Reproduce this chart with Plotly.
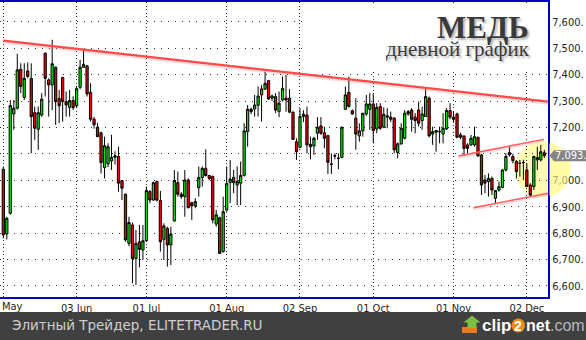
import math
import pandas as pd
import plotly.graph_objects as go

# ---------------- data ----------------
uk_holidays = ['2013-05-06', '2013-05-27', '2013-08-26']
dates = [d.strftime('%Y-%m-%d') for d in pd.bdate_range('2013-05-01', '2013-12-09')
         if d.strftime('%Y-%m-%d') not in uk_holidays]

open_ = [7042,6797,6875,7251,7273,7420,7314,7414,7386,7256,
         7193,7247,7481,7380,7361,7428,7310,7389,7298,7276,
         7302,7282,7352,7428,7433,7333,7231,7201,7180,7048,
         7062,7073,7087,7090,6999,6947,6761,6831,6704,6767,
         6736,6771,6957,6925,6995,6923,6776,6818,6755,6846,
         6991,6947,6938,7001,6915,6903,6972,7010,7045,7018,
         7014,6834,6858,6730,6887,6991,7011,6982,6989,7018,
         7184,7269,7270,7284,7323,7345,7377,7311,7317,7260,
         7304,7311,7311,7258,7146,7125,7241,7247,7136,7130,
         7178,7206,7180,7169,7062,7093,7084,7087,7269,7333,
         7263,7235,7168,7187,7251,7269,7289,7194,7279,7201,
         7244,7239,7235,7105,7138,7159,7251,7266,7239,7266,
         7226,7241,7311,7175,7182,7186,7175,7194,7264,7239,
         7251,7172,7168,7134,7134,7134,7163,7096,7001,6995,
         7007,6932,6963,6973,7039,7105,7090,7071,7065,7067,
         7039,6982,6976,7077,7077,7104]
high = [7052,6862,7304,7304,7479,7443,7443,7446,7443,7279,
        7279,7330,7484,7386,7532,7430,7342,7392,7336,7342,
        7318,7355,7456,7496,7437,7367,7240,7218,7184,7165,
        7140,7172,7110,7127,7001,6950,6862,6840,6812,6831,
        6831,6976,6963,6995,6999,6960,6837,6824,6824,7039,
        7033,6955,7039,7007,6919,6932,7052,7052,7117,7020,
        7018,6888,6862,6938,7052,7077,7039,7052,7071,7216,
        7285,7275,7323,7355,7361,7412,7380,7325,7330,7336,
        7393,7399,7345,7260,7159,7273,7265,7279,7165,7165,
        7239,7239,7203,7172,7102,7102,7102,7203,7355,7393,
        7268,7311,7216,7254,7323,7330,7330,7292,7292,7276,
        7273,7260,7239,7143,7216,7266,7266,7273,7254,7298,
        7279,7348,7317,7203,7191,7203,7254,7273,7292,7260,
        7256,7180,7168,7140,7172,7203,7165,7100,7020,7026,
        7014,6963,6995,7042,7102,7127,7100,7077,7077,7077,
        7064,6989,7093,7127,7134,7115]
low = [6780,6776,6870,7191,7268,7330,7304,7386,7102,7153,
       7115,7240,7317,7241,7266,7210,7216,7222,7241,7241,
       7266,7273,7345,7425,7317,7222,7195,7165,7026,7007,
       7050,7039,7060,6957,6925,6767,6750,6610,6603,6670,
       6698,6767,6913,6923,6920,6730,6698,6673,6679,6843,
       6938,6930,6862,6894,6850,6894,6938,6976,7014,7000,
       6837,6824,6721,6726,6881,6913,6951,6906,6906,7014,
       7127,7250,7241,7241,7222,7342,7304,7300,7254,7239,
       7298,7260,7254,7153,7077,7121,7220,7102,7079,7096,
       7153,7172,7121,7024,7024,7079,7042,7083,7266,7276,
       7248,7115,7146,7165,7244,7191,7140,7178,7191,7197,
       7197,7220,7102,7083,7134,7155,7244,7184,7178,7203,
       7191,7241,7163,7134,7108,7140,7140,7191,7231,7218,
       7159,7155,7092,7102,7130,7127,7090,6944,6951,6938,
       6944,6910,6957,6970,7033,7090,7064,7007,7014,7001,
       6976,6938,6963,7039,7071,7085]
close = [6793,6856,7283,7273,7418,7355,7386,7393,7241,7197,
         7256,7307,7386,7361,7441,7298,7282,7298,7285,7302,
         7275,7347,7428,7439,7327,7231,7210,7165,7067,7131,
         7127,7087,7093,6989,6970,6774,6840,6704,6761,6738,
         6771,6961,6925,6991,6925,6767,6827,6755,6797,6999,
         6947,6938,7001,6896,6903,6919,7010,7045,7018,7007,
         6850,6869,6723,6881,6988,7004,6991,6995,7018,7187,
         7269,7260,7285,7319,7346,7367,7308,7319,7266,7292,
         7348,7304,7258,7155,7108,7241,7250,7134,7127,7159,
         7201,7178,7159,7068,7060,7092,7083,7201,7323,7279,
         7251,7175,7187,7254,7289,7289,7188,7276,7197,7250,
         7239,7231,7115,7138,7197,7254,7260,7231,7226,7216,
         7251,7317,7168,7184,7188,7184,7197,7264,7239,7231,
         7163,7163,7121,7121,7159,7165,7092,6982,6989,7007,
         6963,6961,6976,7039,7090,7096,7074,7033,7064,7067,
         6976,6944,7090,7086,7108,7093]

tick_dates = ['2013-05-01', '2013-06-03', '2013-07-01', '2013-08-01',
              '2013-09-02', '2013-10-01', '2013-11-01', '2013-12-02']
tick_text = ['', '03 Jun', '01 Jul', '01 Aug', '02 Sep', '01 Oct', '01 Nov', '02 Dec']
first_label = 'May'

y_ticks = [6600, 6700, 6800, 6900, 7000, 7100, 7200, 7300, 7400, 7500, 7600]
y_text = ['6,600.', '6,700.', '6,800.', '6,900.', '7,000.', '', '7,200.', '7,300.',
          '7,400.', '7,500.', '7,600.']

# trend lines (x = bar index, y = price)
resist_x = [0, 156.1]
resist_y = [7529, 7298]
chan_up_x = [130.4, 154.9]
chan_up_y = [7092, 7155]
chan_dn_x = [134.7, 156.2]
chan_dn_y = [6896, 6951]

title_main = 'МЕДЬ'
title_sub = 'дневной график'
footer = 'Элитный Трейдер, ELITETRADER.RU'

assert len(dates) == len(open_) == len(high) == len(low) == len(close)

# ---------------- helpers (pixel -> paper) ----------------
PW, PH, PT = 548.0, 295.0, 2.0
def px(x):
    return x / PW
def py(y):
    return (PT + PH - y) / PH

TICKFONT = dict(family='DejaVu Sans Condensed, DejaVu Sans', size=11, color='#1e1e1e')

fig = go.Figure()
fig.add_trace(go.Candlestick(
    x=dates, open=open_, high=high, low=low, close=close,
    increasing=dict(fillcolor='#00ea00', line=dict(color='#000000', width=1)),
    decreasing=dict(fillcolor='#f00000', line=dict(color='#000000', width=1)),
    whiskerwidth=0, hoverinfo='skip', showlegend=False,
))

shapes = []
# yellow highlight circle (soft edge), inside plot
CX, CY, R = 543.0, 169.5, 27.0
shapes.append(dict(type='circle', xref='paper', yref='paper', layer='below',
                   x0=px(CX - R - 2), x1=px(CX + R + 2), y0=py(CY + R + 2), y1=py(CY - R - 2),
                   fillcolor='rgba(255,252,170,0.45)', line=dict(width=0)))
shapes.append(dict(type='circle', xref='paper', yref='paper', layer='below',
                   x0=px(CX - R), x1=px(CX + R), y0=py(CY + R), y1=py(CY - R),
                   fillcolor='rgba(255,252,175,0.9)', line=dict(width=0)))
# part of the circle lying over the price-axis area
xcut = 549.2
amax = math.acos((xcut - CX) / R)
pts = []
for i in range(41):
    a = -amax + 2 * amax * i / 40
    pts.append((CX + R * math.cos(a), CY + R * math.sin(a)))
seg = 'M ' + ' L '.join(f'{px(x):.5f},{py(y):.5f}' for x, y in pts) + ' Z'
shapes.append(dict(type='path', xref='paper', yref='paper', layer='above', path=seg,
                   fillcolor='rgba(255,250,160,0.62)', line=dict(width=0)))
# white box behind title
shapes.append(dict(type='rect', xref='paper', yref='paper', layer='above',
                   x0=px(305), x1=px(547), y0=py(70), y1=py(3.2),
                   fillcolor='white', line=dict(width=0)))
# trend lines
for xs, ys, w, c in [(resist_x, resist_y, 2.2, '#ff4a4a'),
                     (chan_up_x, chan_up_y, 1.4, '#ff5c5c'),
                     (chan_dn_x, chan_dn_y, 1.4, '#ff5c5c')]:
    shapes.append(dict(type='line', xref='x', yref='y', layer='above',
                       x0=xs[0], x1=xs[1], y0=ys[0] - 4, y1=ys[1] - 4,
                       line=dict(color='rgba(255,120,120,0.25)', width=w + 2)))
    shapes.append(dict(type='line', xref='x', yref='y', layer='above',
                       x0=xs[0], x1=xs[1], y0=ys[0], y1=ys[1],
                       line=dict(color=c, width=w)))
# last price marker box
last = close[-1]
hh = 21
shapes.append(dict(type='path', xref='paper', yref='y', layer='above',
                   path=f'M {px(549.5)},{last} L {px(554)},{last + hh} L {px(590)},{last + hh} '
                        f'L {px(590)},{last - hh} L {px(554)},{last - hh} Z',
                   fillcolor='#858585', line=dict(width=0)))
# footer banner
shapes.append(dict(type='rect', xref='paper', yref='paper', layer='above',
                   x0=-0.01, x1=px(590), y0=py(342), y1=py(312),
                   fillcolor='#404040', line=dict(width=0)))
# clip2net icon
shapes.append(dict(type='rect', xref='paper', yref='paper', layer='above',
                   x0=px(462), x1=px(477), y0=py(333), y1=py(327),
                   fillcolor='#e8791c', line=dict(width=0)))
shapes.append(dict(type='path', xref='paper', yref='paper', layer='above',
                   path=f'M {px(472)},{py(315.5)} L {px(480.5)},{py(322.5)} L {px(476.5)},{py(322.5)} '
                        f'L {px(476.5)},{py(328)} L {px(467.5)},{py(328)} L {px(467.5)},{py(322.5)} '
                        f'L {px(463.5)},{py(322.5)} Z',
                   fillcolor='#79c043', line=dict(width=0)))
shapes.append(dict(type='circle', xref='paper', yref='paper', layer='above',
                   x0=px(511.5), x1=px(525), y0=py(332.5), y1=py(318.5),
                   fillcolor='#f08a1e', line=dict(width=0)))

annotations = []
annotations.append(dict(text=first_label, xref='paper', yref='paper', x=px(12), y=py(306.5),
                        xanchor='center', yanchor='middle', showarrow=False, font=TICKFONT))
# title block (two lines in one text, shadowed)
SHADOW = '2px 2px 2px #b4b4b4'
title_html = (f"<span style='font-size:31px'><b>{title_main}</b></span><br>"
              f"<span style='font-size:21px'>{title_sub}</span>")
annotations.append(dict(text=title_html, xref='paper', yref='paper',
                        x=px(532), y=py(36), xanchor='right', yanchor='middle', align='right',
                        showarrow=False,
                        font=dict(family='Liberation Serif, DejaVu Serif', size=14,
                                  color='#3a3a3a', shadow=SHADOW)))
# last price label
annotations.append(dict(text=f'{last:,}.', xref='paper', yref='y', x=px(553), y=last,
                        xanchor='left', yanchor='middle', showarrow=False,
                        font=dict(family=TICKFONT['family'], size=11, color='white')))
# footer texts
annotations.append(dict(text=footer, xref='paper', yref='paper', x=px(10), y=py(325),
                        xanchor='left', yanchor='middle', showarrow=False,
                        font=dict(family='DejaVu Sans', size=13.5, color='#cfcfcf')))
logo_font = dict(family='Liberation Sans, Arial', size=17, color='white')
annotations.append(dict(text='<b>clip</b>', xref='paper', yref='paper', x=px(512.5), y=py(325),
                        xanchor='right', yanchor='middle', showarrow=False, font=logo_font))
annotations.append(dict(text='<b>2</b>', xref='paper', yref='paper', x=px(518.3), y=py(325.5),
                        xanchor='center', yanchor='middle', showarrow=False,
                        font=dict(family='Liberation Sans, Arial', size=14, color='white')))
annotations.append(dict(text="<b>net</b><span style='color:#b8b8b8'>.com</span>",
                        xref='paper', yref='paper', x=px(523.5), y=py(325),
                        xanchor='left', yanchor='middle', showarrow=False,
                        font=dict(family='Liberation Sans, Arial', size=16, color='white')))

fig.update_layout(
    width=586, height=340,
    margin=dict(l=0, r=38, t=2, b=43, pad=0),
    paper_bgcolor='white', plot_bgcolor='white',
    showlegend=False, boxgap=0.08, hovermode=False,
    shapes=shapes, annotations=annotations,
    xaxis=dict(type='category', range=[-0.95, 156.06], rangeslider=dict(visible=False),
               tickmode='array', tickvals=tick_dates, ticktext=tick_text,
               showgrid=True, gridcolor='#303030', gridwidth=1, griddash='1px,2.5px',
               showline=True, linecolor='#0000c4', linewidth=2, mirror=True,
               ticks='', zeroline=False, tickfont=TICKFONT, fixedrange=True),
    yaxis=dict(side='right', range=[6558, 7675], tickmode='array',
               tickvals=y_ticks, ticktext=y_text,
               showgrid=True, gridcolor='#303030', gridwidth=1, griddash='1px,6px',
               showline=True, linecolor='#0000c4', linewidth=2, mirror=False,
               ticks='', zeroline=False, tickfont=TICKFONT, fixedrange=True),
)

fig.write_html('out.html')
